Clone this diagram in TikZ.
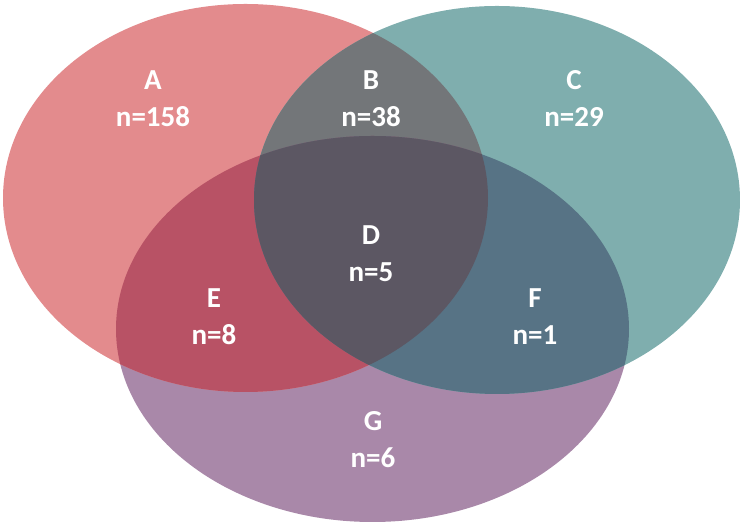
\documentclass[tikz,border=0pt]{standalone}
\usepackage{fontspec}
\setmainfont{Carlito}
\definecolor{cA}{HTML}{E38B8D}
\definecolor{cC}{HTML}{7FAEAE}
\definecolor{cG}{HTML}{A988A9}
\definecolor{cB}{HTML}{737679}
\definecolor{cE}{HTML}{B85265}
\definecolor{cF}{HTML}{577385}
\definecolor{cD}{HTML}{5C5763}
\tikzset{
  lbl/.style={text=white, align=center, inner sep=0pt,
    font={\fontsize{29}{37}\selectfont\bfseries}}
}
\begin{document}
\begin{tikzpicture}[x=1pt,y=1pt]
\useasboundingbox (0,0) rectangle (740,524);
\def\redE{(245.5,326) ellipse [x radius=242.5, y radius=194]}
\def\tealE{(497,324) ellipse [x radius=243, y radius=194]}
\def\purE{(372.5,195) ellipse [x radius=256.5, y radius=193]}
% single regions
\fill[cG] \purE;
\fill[cA] \redE;
\fill[cC] \tealE;
% pairwise overlaps
\begin{scope}
  \clip \redE;
  \fill[cB] \tealE;
  \fill[cE] \purE;
\end{scope}
\begin{scope}
  \clip \tealE;
  \fill[cF] \purE;
\end{scope}
% triple overlap
\begin{scope}
  \clip \redE;
  \clip \tealE;
  \fill[cD] \purE;
\end{scope}
% labels
\node[lbl] (A) at (153,425.5) {A\\n=158};
\node[lbl] (B) at (371,425.5) {B\\n=38};
\node[lbl] (C) at (574,425.5) {C\\n=29};
\node[lbl] (D) at (371,270) {D\\n=5};
\node[lbl] (E) at (214,207.5) {E\\n=8};
\node[lbl] (F) at (535,207.5) {F\\n=1};
\node[lbl] (G) at (373,84.5) {G\\n=6};
\end{tikzpicture}
\end{document}
